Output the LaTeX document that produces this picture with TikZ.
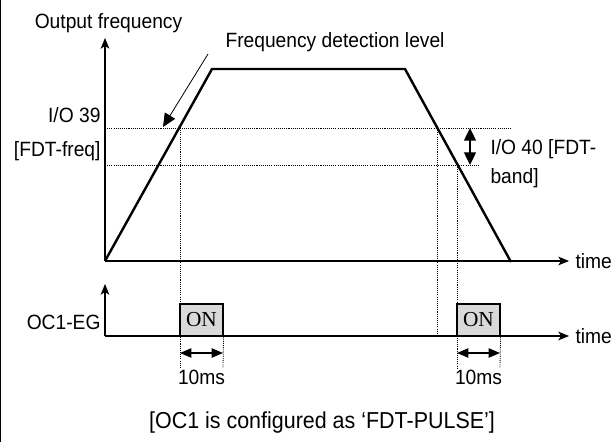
\documentclass[tikz,border=0pt]{standalone}
\usepackage{fontspec}
\setmainfont[FakeStretch=0.93]{Liberation Sans}
\newfontfamily\onfont{Liberation Serif}
\usetikzlibrary{arrows.meta, positioning}
\definecolor{cfill}{HTML}{D9D9D9}
\tikzset{
  every picture/.style={x=0.75pt, y=-0.75pt, line width=0.8pt},
  axis/.style={-{Stealth[length=8pt, width=6.5pt, inset=2pt]}, line width=0.8pt},
  profile/.style={line width=1.8pt, line join=miter},
  guide/.style={dash pattern=on 0.8pt off 0.8pt, line width=0.6pt},
  span/.style={{Triangle[length=8.5pt, width=7pt]}-{Triangle[length=8.5pt, width=7pt]}, line width=1pt},
  band/.style={{Triangle[length=9.5pt, width=9pt]}-{Triangle[length=9.5pt, width=9pt]}, line width=1pt},
  pointer/.style={-{Triangle[length=10pt, width=9pt]}, line width=0.6pt},
  onbox/.style={draw, fill=cfill, line width=0.8pt, minimum width=32.25pt, minimum height=24pt, inner sep=0pt, font=\onfont\fontsize{16}{18}\selectfont},
  lbl/.style={font=\fontsize{15.5}{18}\selectfont, inner sep=0pt},
}

\begin{document}
\begin{tikzpicture}
  \useasboundingbox (0,0) rectangle (615,442);
  \draw[line width=1pt] (0.6,0) -- (0.6,442);
  % frequency profile
  \coordinate (O) at (105,261);
  \coordinate (ftop) at (105,38);
  \coordinate (tend) at (569,261);
  \coordinate (up) at (212,69);
  \coordinate (down) at (405,69);
  \coordinate (stop) at (511,262);
  % detection levels
  \coordinate (hi) at (105,128);
  \coordinate (hiE) at (512,128);
  \coordinate (lo) at (105,165);
  \coordinate (loE) at (480,165);
  \coordinate (xa) at (180,128);
  \coordinate (xb) at (437,128);
  \coordinate (xc) at (457,165);
  % output axis
  \coordinate (P) at (105,336);
  \coordinate (ptop) at (105,284);
  \coordinate (pend) at (569,336);

  \node[onbox] (on1) at (201.5,320) {ON};
  \node[onbox] (on2) at (478.5,320) {ON};

  \coordinate (a1) at (180,368);
  \coordinate (b1) at (223,368);
  \coordinate (a2) at (457,368);
  \coordinate (b2) at (500,368);
  \coordinate (xbP) at (437,336);

  \draw[guide] (hi) -- (hiE);
  \draw[guide] (lo) -- (loE);
  \draw[guide] (xa) -- (a1);
  \draw[guide] (on1.south east) -- (b1);
  \draw[guide] (xb) -- (xbP);
  \draw[guide] (xc) -- (a2);
  \draw[guide] (on2.south east) -- (b2);

  \draw[axis] (O) -- (ftop);
  \draw[axis] (O) -- (tend);
  \draw[axis] (P) -- (ptop);
  \draw[axis] (P) -- (pend);
  \draw[profile] (O) -- (up) -- (down) -- (stop);

  \draw[span] (180,353) -- (223,353);
  \draw[span] (457,353) -- (500,353);
  \draw[band] (470,128) -- (470,165);

  \node[lbl, anchor=base] (fout) at (108.5,29) {Output frequency};
  \node[lbl, anchor=base west] (fdet) at (225,48) {Frequency detection level};
  \coordinate (fdetA) at (208,54);
  \coordinate (fdetB) at (163,127);
  \draw[pointer] (fdetA) -- (fdetB);
  \node[lbl, anchor=base east] (io39) at (101,123) {I/O 39};
  \node[lbl, anchor=base east] (fdtf) at (101,157) {[FDT-freq]};
  \node[lbl, anchor=base west] (io40) at (490,155) {I/O 40 [FDT-};
  \node[lbl, anchor=base west] (fdtb) at (490,184) {band]};
  \node[lbl, anchor=base east] (oc1) at (101,330) {OC1-EG};
  \node[lbl, anchor=west] (t1) at (575,261) {time};
  \node[lbl, anchor=west] (t2) at (575,336) {time};
  \node[lbl, anchor=base] (ms1) at (201.5,385) {10ms};
  \node[lbl, anchor=base] (ms2) at (478.5,385) {10ms};
  \node[lbl, font=\fontsize{17.3}{20}\selectfont, anchor=base] (cap) at (322,428) {[OC1 is configured as `FDT-PULSE']};
\end{tikzpicture}
\end{document}
